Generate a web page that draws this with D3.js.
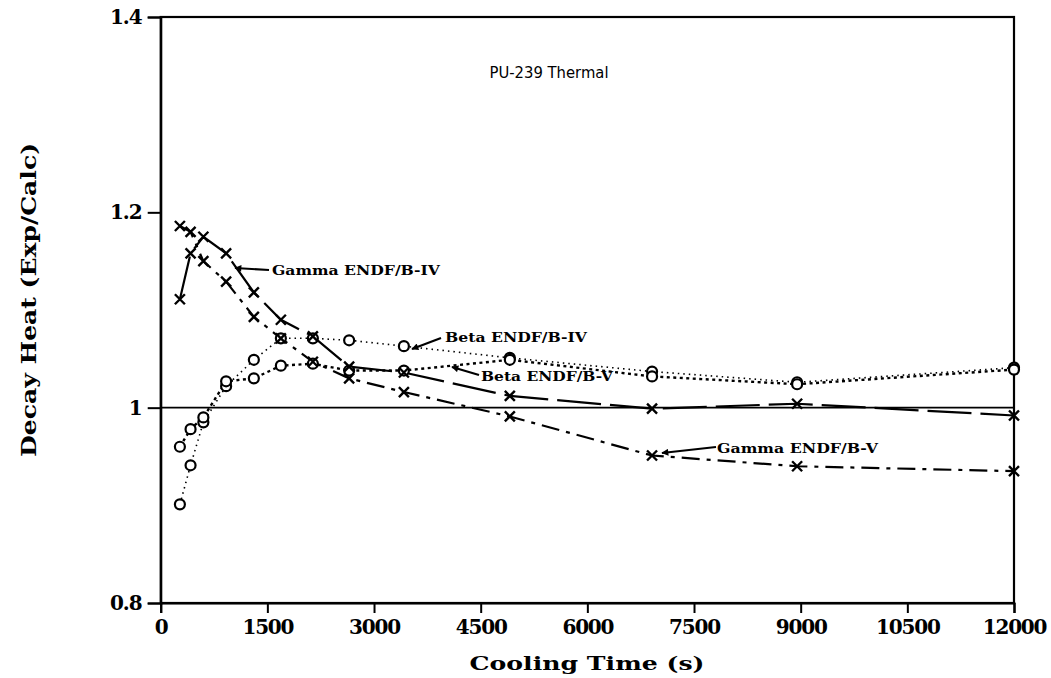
<!DOCTYPE html>
<html>
<head>
<meta charset="utf-8">
<script src="https://cdn.jsdelivr.net/npm/d3@7"></script>
<style>
  html, body { margin: 0; padding: 0; background: #fff; }
  svg { display: block; }
  .tick-label { font-family: "DejaVu Serif", serif; font-weight: bold; font-size: 20px; fill: #000; }
  .axis-title { font-family: "DejaVu Serif", serif; font-weight: bold; fill: #000; }
  .note { font-family: "DejaVu Serif", serif; font-weight: bold; font-size: 13px; fill: #000; }
  .title { font-family: "DejaVu Sans", sans-serif; font-size: 15px; fill: #000; }
</style>
</head>
<body>
<svg id="chart" width="1051" height="678"></svg>
<script>
// Cooling times (s) of the measurements
const coolingTimes = [270, 420, 600, 920, 1310, 1690, 2140, 2650, 3420, 4910, 6910, 8950, 12000];

// Exp/Calc ratios per data set
const gammaIV = [1.111, 1.158, 1.175, 1.158, 1.118, 1.090, 1.073, 1.042, 1.036, 1.012, 0.999, 1.004, 0.992];
const gammaV  = [1.186, 1.180, 1.150, 1.129, 1.093, 1.071, 1.047, 1.030, 1.016, 0.991, 0.951, 0.940, 0.935];
const betaIV  = [0.901, 0.941, 0.985, 1.022, 1.049, 1.071, 1.071, 1.069, 1.063, 1.051, 1.037, 1.026, 1.041];
const betaV   = [0.960, 0.978, 0.990, 1.027, 1.030, 1.043, 1.045, 1.038, 1.038, 1.049, 1.032, 1.024, 1.039];

const xTicks = [0, 1500, 3000, 4500, 6000, 7500, 9000, 10500, 12000];
const yTicks = [0.8, 1.0, 1.2, 1.4];
const yTickLabels = ["0.8", "1", "1.2", "1.4"];

const svg = d3.select("#chart");

const x = d3.scaleLinear().domain([0, 12000]).range([160.7, 1014]);
const y = d3.scaleLinear().domain([0.8, 1.4]).range([603, 17]);

// arrowhead for the annotation pointers
svg.append("defs").append("marker")
  .attr("id", "head")
  .attr("viewBox", "0 0 10 10")
  .attr("refX", 9).attr("refY", 5)
  .attr("markerWidth", 9).attr("markerHeight", 7)
  .attr("markerUnits", "userSpaceOnUse")
  .attr("orient", "auto")
  .append("path").attr("d", "M0,0 L10,5 L0,10 z").attr("fill", "#000");

// frame
svg.append("rect")
  .attr("x", x(0)).attr("y", y(1.4))
  .attr("width", x(12000) - x(0)).attr("height", y(0.8) - y(1.4))
  .attr("fill", "none").attr("stroke", "#000").attr("stroke-width", 2.2);

// axes
const xAxis = d3.axisBottom(x).tickValues(xTicks).tickSize(10).tickFormat(d3.format("d"));
const gx = svg.append("g").attr("transform", `translate(0,${y(0.8)})`).call(xAxis);
gx.select(".domain").attr("stroke-width", 2.2);
gx.selectAll(".tick line").attr("stroke-width", 2);
gx.selectAll(".tick text").attr("class", "tick-label").attr("dy", "0.95em").attr("y", 12)
  .style("letter-spacing", "-1.2px");

const yAxis = d3.axisLeft(y).tickValues(yTicks).tickSize(13)
  .tickFormat((d, i) => yTickLabels[i]);
const gy = svg.append("g").attr("transform", `translate(${x(0)},0)`).call(yAxis);
gy.select(".domain").attr("stroke-width", 2.2);
gy.selectAll(".tick line").attr("stroke-width", 2);
gy.selectAll(".tick text").attr("class", "tick-label").attr("x", -19)
  .style("letter-spacing", "-1px");
svg.selectAll(".tick text").attr("font-family", null).attr("font-size", null);

// reference line at unity
svg.append("line")
  .attr("x1", x(0)).attr("x2", x(12000))
  .attr("y1", y(1.0)).attr("y2", y(1.0))
  .attr("stroke", "#000").attr("stroke-width", 1.8);

const line = d3.line().x(d => x(d[0])).y(d => y(d[1]));

const series = [
  { values: betaIV,  marker: "circle", dash: "1.5,4",     width: 1.6 },
  { values: betaV,   marker: "circle", dash: "3,3.5",     width: 2.4 },
  { values: gammaIV, marker: "cross",  dash: "44,9",      width: 2.2 },
  { values: gammaV,  marker: "cross",  dash: "18,7,4,7",  width: 2.2 }
];

series.forEach(s => {
  const pts = coolingTimes.map((t, i) => [t, s.values[i]]);
  svg.append("path")
    .attr("d", line(pts))
    .attr("fill", "none").attr("stroke", "#000")
    .attr("stroke-width", s.width)
    .attr("stroke-dasharray", s.dash);
});

series.forEach(s => {
  const pts = coolingTimes.map((t, i) => [t, s.values[i]]);
  const g = svg.append("g");
  if (s.marker === "circle") {
    g.selectAll("circle").data(pts).join("circle")
      .attr("cx", d => x(d[0])).attr("cy", d => y(d[1])).attr("r", 5)
      .attr("fill", "#fff").attr("stroke", "#000").attr("stroke-width", 2.2);
  } else {
    const k = 5;
    g.selectAll("path").data(pts).join("path")
      .attr("d", d => {
        const cx = x(d[0]), cy = y(d[1]);
        return `M${cx - k},${cy - k}L${cx + k},${cy + k}M${cx - k},${cy + k}L${cx + k},${cy - k}`;
      })
      .attr("stroke", "#000").attr("stroke-width", 2.4).attr("fill", "none");
  }
});

// annotations: label text plus a pointer onto its curve
const notes = [
  { text: "Gamma ENDF/B-IV", tx: 272, ty: 275, len: 168, from: [269, 270], to: [235, 268] },
  { text: "Beta ENDF/B-IV",  tx: 445, ty: 342, len: 142, from: [441, 338], to: [412, 349] },
  { text: "Beta ENDF/B-V",   tx: 481, ty: 381, len: 132, from: [479, 375], to: [452, 367] },
  { text: "Gamma ENDF/B-V",  tx: 717, ty: 453, len: 161, from: [716, 447], to: [662, 453] }
];
notes.forEach(n => {
  svg.append("line")
    .attr("x1", n.from[0]).attr("y1", n.from[1])
    .attr("x2", n.to[0]).attr("y2", n.to[1])
    .attr("stroke", "#000").attr("stroke-width", 2.2)
    .attr("marker-end", "url(#head)");
  svg.append("text").attr("class", "note")
    .attr("x", n.tx).attr("y", n.ty)
    .attr("textLength", n.len).attr("lengthAdjust", "spacingAndGlyphs")
    .text(n.text);
});

// title
svg.append("text").attr("class", "title")
  .attr("x", 549).attr("y", 78).attr("text-anchor", "middle")
  .attr("textLength", 119).attr("lengthAdjust", "spacingAndGlyphs")
  .text("PU-239 Thermal");

// axis titles
svg.append("text").attr("class", "axis-title")
  .attr("x", 587).attr("y", 670).attr("text-anchor", "middle")
  .attr("font-size", 18)
  .attr("textLength", 235).attr("lengthAdjust", "spacingAndGlyphs")
  .text("Cooling Time (s)");

svg.append("text").attr("class", "axis-title")
  .attr("transform", "translate(36,300) rotate(-90)")
  .attr("text-anchor", "middle")
  .attr("font-size", 21)
  .attr("textLength", 314).attr("lengthAdjust", "spacingAndGlyphs")
  .text("Decay Heat (Exp/Calc)");
</script>
</body>
</html>
